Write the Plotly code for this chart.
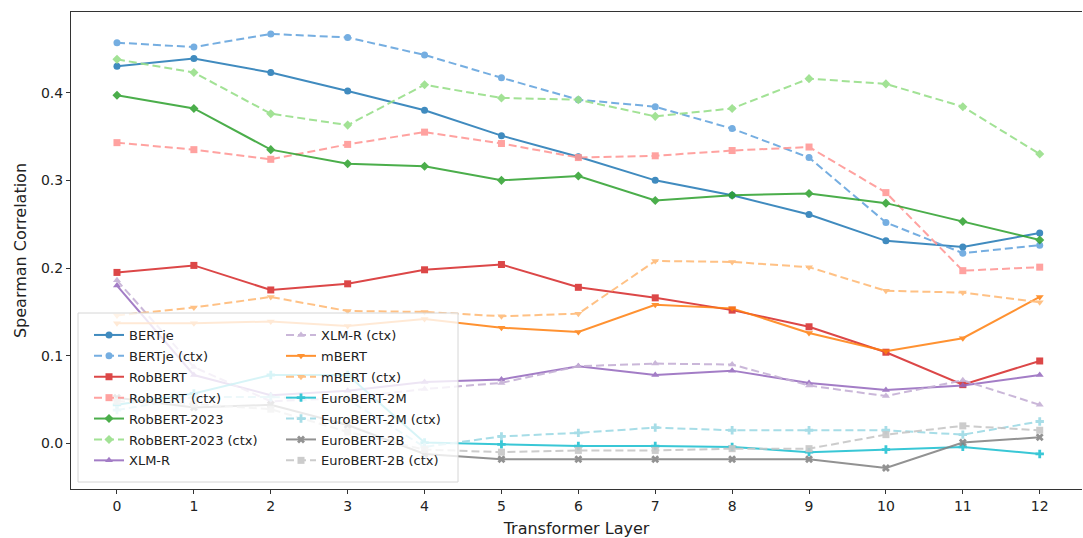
import plotly.graph_objects as go

layers = list(range(13))

bertje = [0.430, 0.439, 0.423, 0.402, 0.380, 0.351, 0.327, 0.300, 0.283, 0.261, 0.231, 0.224, 0.240]
bertje_ctx = [0.457, 0.452, 0.467, 0.463, 0.443, 0.417, 0.392, 0.384, 0.359, 0.326, 0.252, 0.217, 0.226]
robbert = [0.195, 0.203, 0.175, 0.182, 0.198, 0.204, 0.178, 0.166, 0.152, 0.133, 0.104, 0.067, 0.094]
robbert_ctx = [0.343, 0.335, 0.324, 0.341, 0.355, 0.342, 0.326, 0.328, 0.334, 0.338, 0.286, 0.197, 0.201]
robbert2023 = [0.397, 0.382, 0.335, 0.319, 0.316, 0.300, 0.305, 0.277, 0.283, 0.285, 0.274, 0.253, 0.232]
robbert2023_ctx = [0.438, 0.423, 0.376, 0.363, 0.409, 0.394, 0.392, 0.373, 0.382, 0.416, 0.410, 0.384, 0.330]
xlmr = [0.180, 0.078, 0.055, 0.060, 0.070, 0.073, 0.088, 0.078, 0.083, 0.069, 0.061, 0.066, 0.078]
xlmr_ctx = [0.186, 0.087, 0.048, 0.052, 0.062, 0.069, 0.088, 0.091, 0.090, 0.066, 0.054, 0.072, 0.044]
mbert = [0.137, 0.137, 0.139, 0.134, 0.142, 0.132, 0.127, 0.158, 0.154, 0.126, 0.105, 0.120, 0.167]
mbert_ctx = [0.146, 0.155, 0.167, 0.151, 0.150, 0.145, 0.148, 0.208, 0.207, 0.201, 0.174, 0.172, 0.161]
eurobert2m = [0.044, 0.057, 0.078, 0.078, 0.001, -0.001, -0.003, -0.003, -0.004, -0.010, -0.007, -0.004, -0.012]
eurobert2m_ctx = [0.038, 0.053, 0.053, 0.050, -0.004, 0.008, 0.012, 0.018, 0.015, 0.015, 0.015, 0.010, 0.025]
eurobert2b = [0.052, 0.041, 0.044, 0.021, -0.012, -0.018, -0.018, -0.018, -0.018, -0.018, -0.028, 0.001, 0.007]
eurobert2b_ctx = [0.048, 0.045, 0.039, 0.013, -0.007, -0.010, -0.008, -0.008, -0.006, -0.006, 0.010, 0.020, 0.015]

series = [
    ("BERTje", bertje, "#1f77b4", "circle", "solid", 0.85, "legend"),
    ("BERTje (ctx)", bertje_ctx, "#5ea0dc", "circle", "dash", 0.85, "legend"),
    ("RobBERT", robbert, "#d62728", "square", "solid", 0.85, "legend"),
    ("RobBERT (ctx)", robbert_ctx, "#ff9896", "square", "dash", 0.9, "legend"),
    ("RobBERT-2023", robbert2023, "#2ca02c", "diamond", "solid", 0.85, "legend"),
    ("RobBERT-2023 (ctx)", robbert2023_ctx, "#98df8a", "diamond", "dash", 0.9, "legend"),
    ("XLM-R", xlmr, "#9467bd", "triangle-up", "solid", 0.85, "legend"),
    ("XLM-R (ctx)", xlmr_ctx, "#c5b0d5", "triangle-up", "dash", 0.9, "legend2"),
    ("mBERT", mbert, "#ff7f0e", "triangle-down", "solid", 0.85, "legend2"),
    ("mBERT (ctx)", mbert_ctx, "#ffbb78", "triangle-down", "dash", 0.9, "legend2"),
    ("EuroBERT-2M", eurobert2m, "#17becf", "cross", "solid", 0.85, "legend2"),
    ("EuroBERT-2M (ctx)", eurobert2m_ctx, "#9edae5", "cross", "dash", 0.9, "legend2"),
    ("EuroBERT-2B", eurobert2b, "#7f7f7f", "x", "solid", 0.85, "legend2"),
    ("EuroBERT-2B (ctx)", eurobert2b_ctx, "#c7c7c7", "square", "dash", 0.9, "legend2"),
]

fig = go.Figure()
for name, vals, color, sym, dash, op, leg in series:
    fig.add_trace(go.Scatter(
        x=layers, y=vals, name=name, mode="lines+markers",
        line=dict(color=color, width=2, dash="8px,4px" if dash == "dash" else "solid"),
        marker=dict(symbol=sym, size=7, color=color),
        opacity=op, legend=leg, legendgroup=name,
    ))

W, H = 1083, 538
ml, mr, mt, mb = 71, 1, 12, 49
pw, ph = W - ml - mr, H - mt - mb

def px_x(p):
    return (p - ml) / pw

def px_y(p):
    return (H - mb - p) / ph

font = dict(family="DejaVu Sans", size=14, color="#222")
lfont = dict(family="DejaVu Sans", size=13, color="#222")
tfont = dict(family="DejaVu Sans", size=16, color="#222")

fig.update_layout(
    width=W, height=H,
    margin=dict(l=ml, r=mr, t=mt, b=mb),
    plot_bgcolor="white", paper_bgcolor="white",
    font=font,
    showlegend=True,
    xaxis=dict(
        range=[-0.598, 12.55], tickmode="array", tickvals=layers,
        ticktext=[str(v) for v in layers],
        showgrid=False, zeroline=False, showline=True, linecolor="#333", linewidth=1,
        mirror=True, ticks="outside", ticklen=4, tickcolor="#333",
        tickfont=font,
        title=dict(text="Transformer Layer", font=tfont, standoff=11),
    ),
    yaxis=dict(
        range=[-0.052, 0.492], tickmode="array", tickvals=[0.0, 0.1, 0.2, 0.3, 0.4],
        ticktext=["0.0", "0.1", "0.2", "0.3", "0.4"],
        showgrid=False, zeroline=False, showline=True, linecolor="#333", linewidth=1,
        ticks="outside", ticklen=4, tickcolor="#333",
        tickfont=font,
        title=dict(text="Spearman Correlation", font=tfont, standoff=10),
    ),
    legend=dict(
        x=px_x(89), y=px_y(320), xanchor="left", yanchor="top",
        bgcolor="rgba(0,0,0,0)", borderwidth=0, font=lfont, tracegroupgap=1,
        itemwidth=30,
    ),
    legend2=dict(
        x=px_x(281), y=px_y(320), xanchor="left", yanchor="top",
        bgcolor="rgba(0,0,0,0)", borderwidth=0, font=lfont, tracegroupgap=1,
        itemwidth=30,
    ),
    shapes=[dict(
        type="rect", xref="paper", yref="paper",
        x0=px_x(78), x1=px_x(458), y0=px_y(482), y1=px_y(313),
        fillcolor="rgba(255,255,255,0.8)", line=dict(color="#d6d6d6", width=1),
        layer="above",
    )],
)

fig.write_html("out.html", config={"displayModeBar": False},
               post_script="document.body.style.margin='0px';")
